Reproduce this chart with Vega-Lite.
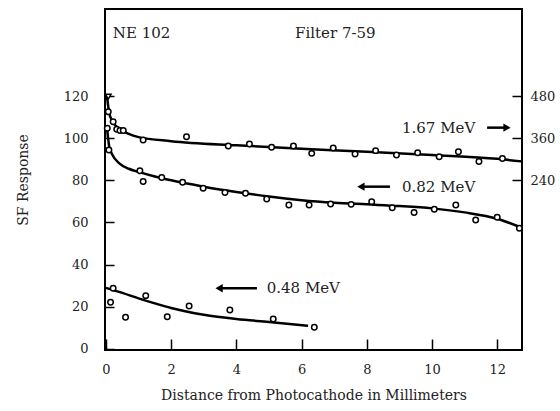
{
  "$schema": "https://vega.github.io/schema/vega-lite/v6.json",
  "width": 417,
  "height": 341,
  "autosize": "none",
  "padding": {"left": 105, "top": 9, "right": 38, "bottom": 61},
  "background": "white",
  "config": {
    "view": {"stroke": "black", "strokeWidth": 2},
    "font": "DejaVu Serif",
    "axis": {"labelFont": "DejaVu Serif", "titleFont": "DejaVu Serif", "labelColor": "#222", "titleColor": "#222", "titleFontWeight": "normal", "labelFontSize": 13, "titleFontSize": 14, "domain": false, "grid": false, "tickColor": "black", "tickWidth": 1.5}
  },
  "datasets": {
    "curves": [
      {"series": "1.67 MeV", "x": 0.03, "y": 120},
      {"series": "1.67 MeV", "x": 0.1, "y": 112},
      {"series": "1.67 MeV", "x": 0.2, "y": 108},
      {"series": "1.67 MeV", "x": 0.4, "y": 104.5},
      {"series": "1.67 MeV", "x": 0.7, "y": 102},
      {"series": "1.67 MeV", "x": 1.0, "y": 100.5},
      {"series": "1.67 MeV", "x": 2.0, "y": 98.6},
      {"series": "1.67 MeV", "x": 4.0, "y": 96.6},
      {"series": "1.67 MeV", "x": 6.0, "y": 95},
      {"series": "1.67 MeV", "x": 8.0, "y": 93.6},
      {"series": "1.67 MeV", "x": 10.0, "y": 92},
      {"series": "1.67 MeV", "x": 12.0, "y": 90.2},
      {"series": "1.67 MeV", "x": 12.75, "y": 89},
      {"series": "0.82 MeV", "x": 0.03, "y": 105},
      {"series": "0.82 MeV", "x": 0.1, "y": 96},
      {"series": "0.82 MeV", "x": 0.2, "y": 92},
      {"series": "0.82 MeV", "x": 0.4, "y": 88.2},
      {"series": "0.82 MeV", "x": 0.7, "y": 85.5},
      {"series": "0.82 MeV", "x": 1.0, "y": 84},
      {"series": "0.82 MeV", "x": 1.5, "y": 81.8},
      {"series": "0.82 MeV", "x": 2.0, "y": 80},
      {"series": "0.82 MeV", "x": 3.0, "y": 77},
      {"series": "0.82 MeV", "x": 4.0, "y": 74.5},
      {"series": "0.82 MeV", "x": 5.0, "y": 72.3},
      {"series": "0.82 MeV", "x": 6.0, "y": 70.6},
      {"series": "0.82 MeV", "x": 7.0, "y": 69.4},
      {"series": "0.82 MeV", "x": 8.0, "y": 68.6},
      {"series": "0.82 MeV", "x": 9.0, "y": 67.8},
      {"series": "0.82 MeV", "x": 10.0, "y": 66.7},
      {"series": "0.82 MeV", "x": 11.0, "y": 64.8},
      {"series": "0.82 MeV", "x": 12.0, "y": 61.8},
      {"series": "0.82 MeV", "x": 12.75, "y": 57.5},
      {"series": "0.48 MeV", "x": 0.0, "y": 29},
      {"series": "0.48 MeV", "x": 0.5, "y": 26.6},
      {"series": "0.48 MeV", "x": 1.0, "y": 24},
      {"series": "0.48 MeV", "x": 1.5, "y": 21.6},
      {"series": "0.48 MeV", "x": 2.0, "y": 19.4},
      {"series": "0.48 MeV", "x": 3.0, "y": 16.2},
      {"series": "0.48 MeV", "x": 4.0, "y": 14.2},
      {"series": "0.48 MeV", "x": 5.0, "y": 12.8},
      {"series": "0.48 MeV", "x": 6.2, "y": 11}
    ],
    "points": [
      {"series": "1.67 MeV", "marker": "triangle", "x": 0.07, "y": 119.7},
      {"series": "1.67 MeV", "marker": "circle", "x": 0.07, "y": 112.6},
      {"series": "1.67 MeV", "marker": "circle", "x": 0.22, "y": 107.8},
      {"series": "1.67 MeV", "marker": "circle", "x": 0.33, "y": 104.2},
      {"series": "1.67 MeV", "marker": "circle", "x": 0.43, "y": 103.6},
      {"series": "1.67 MeV", "marker": "circle", "x": 0.53, "y": 103.6},
      {"series": "1.67 MeV", "marker": "circle", "x": 1.14, "y": 99.1},
      {"series": "1.67 MeV", "marker": "circle", "x": 2.47, "y": 100.7},
      {"series": "1.67 MeV", "marker": "circle", "x": 3.75, "y": 96.3},
      {"series": "1.67 MeV", "marker": "circle", "x": 4.4, "y": 97.2},
      {"series": "1.67 MeV", "marker": "circle", "x": 5.08, "y": 95.7},
      {"series": "1.67 MeV", "marker": "circle", "x": 5.75, "y": 96.3},
      {"series": "1.67 MeV", "marker": "circle", "x": 6.31, "y": 92.8},
      {"series": "1.67 MeV", "marker": "circle", "x": 6.97, "y": 95.3},
      {"series": "1.67 MeV", "marker": "circle", "x": 7.64, "y": 92.5},
      {"series": "1.67 MeV", "marker": "circle", "x": 8.27, "y": 94.1},
      {"series": "1.67 MeV", "marker": "circle", "x": 8.91, "y": 92},
      {"series": "1.67 MeV", "marker": "circle", "x": 9.56, "y": 93.1},
      {"series": "1.67 MeV", "marker": "circle", "x": 10.22, "y": 91.2},
      {"series": "1.67 MeV", "marker": "circle", "x": 10.81, "y": 93.6},
      {"series": "1.67 MeV", "marker": "circle", "x": 11.44, "y": 88.9},
      {"series": "1.67 MeV", "marker": "circle", "x": 12.16, "y": 90.4},
      {"series": "0.82 MeV", "marker": "circle", "x": 0.04, "y": 104.7},
      {"series": "0.82 MeV", "marker": "circle", "x": 0.09, "y": 94.4},
      {"series": "0.82 MeV", "marker": "circle", "x": 1.04, "y": 84.6},
      {"series": "0.82 MeV", "marker": "circle", "x": 1.14, "y": 79.4},
      {"series": "0.82 MeV", "marker": "circle", "x": 1.71, "y": 81.3},
      {"series": "0.82 MeV", "marker": "circle", "x": 2.35, "y": 79.1},
      {"series": "0.82 MeV", "marker": "circle", "x": 2.98, "y": 76.2},
      {"series": "0.82 MeV", "marker": "circle", "x": 3.65, "y": 74.2},
      {"series": "0.82 MeV", "marker": "circle", "x": 4.28, "y": 73.9},
      {"series": "0.82 MeV", "marker": "circle", "x": 4.93, "y": 71.2},
      {"series": "0.82 MeV", "marker": "circle", "x": 5.61, "y": 68.3},
      {"series": "0.82 MeV", "marker": "circle", "x": 6.23, "y": 68.3},
      {"series": "0.82 MeV", "marker": "circle", "x": 6.89, "y": 68.8},
      {"series": "0.82 MeV", "marker": "circle", "x": 7.52, "y": 68.6},
      {"series": "0.82 MeV", "marker": "circle", "x": 8.15, "y": 69.9},
      {"series": "0.82 MeV", "marker": "circle", "x": 8.78, "y": 67},
      {"series": "0.82 MeV", "marker": "circle", "x": 9.45, "y": 64.7},
      {"series": "0.82 MeV", "marker": "circle", "x": 10.07, "y": 66.3},
      {"series": "0.82 MeV", "marker": "circle", "x": 10.73, "y": 68.3},
      {"series": "0.82 MeV", "marker": "circle", "x": 11.34, "y": 61.2},
      {"series": "0.82 MeV", "marker": "circle", "x": 12.0, "y": 62.5},
      {"series": "0.82 MeV", "marker": "circle", "x": 12.68, "y": 57.3},
      {"series": "0.48 MeV", "marker": "circle", "x": 0.14, "y": 22.2},
      {"series": "0.48 MeV", "marker": "circle", "x": 0.22, "y": 28.8},
      {"series": "0.48 MeV", "marker": "circle", "x": 0.6, "y": 15},
      {"series": "0.48 MeV", "marker": "circle", "x": 1.22, "y": 25.3},
      {"series": "0.48 MeV", "marker": "circle", "x": 1.88, "y": 15.3},
      {"series": "0.48 MeV", "marker": "circle", "x": 2.55, "y": 20.4},
      {"series": "0.48 MeV", "marker": "circle", "x": 3.8, "y": 18.5},
      {"series": "0.48 MeV", "marker": "circle", "x": 5.13, "y": 14.2},
      {"series": "0.48 MeV", "marker": "circle", "x": 6.39, "y": 10.3}
    ],
    "labels": [
      {"text": "NE 102", "x": 0.21, "y": 149.9},
      {"text": "Filter 7-59", "x": 5.8, "y": 149.9},
      {"text": "1.67 MeV", "x": 9.08, "y": 104.8},
      {"text": "0.82 MeV", "x": 9.08, "y": 77},
      {"text": "0.48 MeV", "x": 4.93, "y": 28.8}
    ],
    "arrows": [
      {"series": "1.67 MeV", "dir": "right", "x": 11.69, "x2": 12.25, "head": 12.3, "y": 105},
      {"series": "0.82 MeV", "dir": "left", "x": 7.8, "x2": 8.71, "head": 7.82, "y": 77},
      {"series": "0.48 MeV", "dir": "left", "x": 3.45, "x2": 4.63, "head": 3.47, "y": 28.8}
    ]
  },
  "resolve": {"scale": {"y": "independent"}},
  "layer": [
    {
      "resolve": {"scale": {"shape": "independent"}},
      "layer": [
        {
          "data": {"name": "curves"},
          "mark": {"type": "line", "color": "black", "strokeWidth": 2.5, "interpolate": "monotone"},
          "encoding": {
            "x": {"field": "x", "type": "quantitative", "scale": {"domain": [-0.03, 12.76], "nice": false, "zero": false},
              "axis": {"values": [0,1,2,3,4,5,6,7,8,9,10,11,12], "labelExpr": "datum.value % 2 == 0 ? datum.label : ''", "tickSize": -11, "labelPadding": 24, "title": "Distance from Photocathode in Millimeters", "titlePadding": 12, "labelFlush": false}},
            "y": {"field": "y", "type": "quantitative", "scale": {"domain": [-0.5, 161.3], "nice": false, "zero": false},
              "axis": {"values": [0,20,40,60,80,100,120], "tickSize": -9, "labelPadding": 26, "title": "SF Response", "titlePadding": 33, "labelFlush": false}},
            "detail": {"field": "series"}
          }
        },
        {
          "data": {"name": "points"},
          "mark": {"type": "point", "filled": true, "fill": "white", "stroke": "black", "strokeWidth": 1.5, "size": 30, "opacity": 1},
          "encoding": {
            "x": {"field": "x", "type": "quantitative"},
            "y": {"field": "y", "type": "quantitative"},
            "shape": {"field": "marker", "type": "nominal", "scale": {"domain": ["circle", "triangle"], "range": ["circle", "triangle-down"]}, "legend": null}
          }
        },
        {
          "data": {"name": "arrows"},
          "mark": {"type": "rule", "color": "black", "strokeWidth": 2.5},
          "encoding": {
            "x": {"field": "x", "type": "quantitative"},
            "x2": {"field": "x2"},
            "y": {"field": "y", "type": "quantitative"}
          }
        },
        {
          "data": {"name": "arrows"},
          "mark": {"type": "point", "filled": true, "color": "black", "size": 70, "opacity": 1},
          "encoding": {
            "x": {"field": "head", "type": "quantitative"},
            "y": {"field": "y", "type": "quantitative"},
            "shape": {"field": "dir", "type": "nominal", "scale": {"domain": ["right", "left"], "range": ["triangle-right", "triangle-left"]}, "legend": null}
          }
        }
      ]
    },
    {
      "data": {"name": "labels"},
      "mark": {"type": "text", "align": "left", "baseline": "middle", "font": "DejaVu Serif", "fontSize": 15, "color": "#222"},
      "encoding": {
        "x": {"field": "x", "type": "quantitative"},
        "y": {"field": "y", "type": "quantitative", "scale": {"domain": [-0.5, 161.3], "nice": false, "zero": false},
          "axis": {"orient": "right", "values": [80, 100, 120], "labelExpr": "datum.value == 120 ? '480' : datum.value == 100 ? '360' : '240'", "tickSize": -10, "labelPadding": 18, "title": null, "labelFlush": false}},
        "text": {"field": "text"}
      }
    }
  ]
}
